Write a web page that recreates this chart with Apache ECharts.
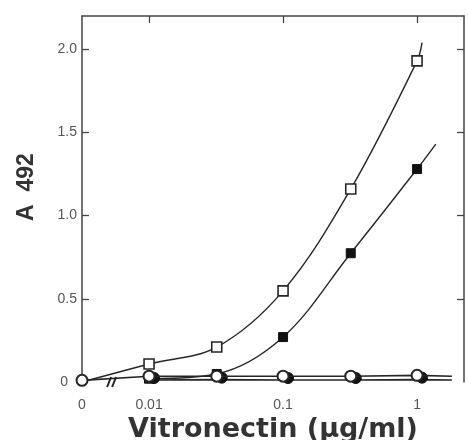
<!DOCTYPE html>
<html>
<head>
<meta charset="utf-8">
<script src="https://cdn.jsdelivr.net/npm/echarts@6/dist/echarts.min.js"></script>
<style>
  html, body { margin: 0; padding: 0; background: #fff; }
  #chart { width: 468px; height: 440px; }
</style>
</head>
<body>
<div id="chart"></div>
<script>
// Concentration 0 is drawn at the left end of the log axis (axis break "//").
const xZero = 0.00316;
const xMax = 2.24;

// Vitronectin concentrations (µg/ml)
const concentrations = [0, 0.01, 0.032, 0.1, 0.32, 1];

// A 492 readings per series ('-' = no point)
const openSquares   = [0, 0.108, 0.21, 0.548, 1.16, 1.93];
const filledSquares = ['-', 0.02, 0.048, 0.27, 0.774, 1.28];
const openCircles   = [0.01, 0.035, 0.035, 0.035, 0.035, 0.04];
const filledCircles = ['-', 0.012, 0.014, 0.012, 0.012, 0.014];

// Fitted curves continue slightly past the last measured point
const openSquaresTail   = [1.09, 2.04];
const filledSquaresTail = [1.38, 1.43];
const openCirclesTail   = [1.82, 0.035];
const filledCirclesTail = [1.82, 0.012];

// Axis ticks
const yTicks = [0, 0.5, 1, 1.5, 2];
const xTicks = [0.01, 0.1, 1];
const xLabelValues = [xZero, 0.01, 0.1, 1];

const ink = '#262626';
const frame = '#444';

function toPoints(values, tail, hideFirst) {
  const pts = [];
  values.forEach((v, i) => {
    if (v === '-') return;
    const x = concentrations[i] === 0 ? xZero : concentrations[i];
    const p = { value: [x, v] };
    if (hideFirst && i === 0) p.symbol = 'none';
    pts.push(p);
  });
  if (tail) pts.push({ value: tail, symbol: 'none' });
  return pts;
}

const chart = echarts.init(document.getElementById('chart'), null, { renderer: 'canvas' });

const labelStyle = { color: '#555', fontFamily: 'Liberation Sans, Arial', fontSize: 14 };
const innerTicks = vals => ({ show: true, inside: true, length: 7, customValues: vals, lineStyle: { color: frame, width: 1.3 } });

chart.setOption({
  animation: false,
  backgroundColor: '#fff',
  grid: { left: 82, top: 16, right: 4, bottom: 58, containLabel: false, outerBoundsMode: 'none' },
  xAxis: [
    {
      type: 'log', logBase: 10, min: xZero, max: xMax, position: 'bottom',
      axisLine: { show: false, onZero: false },
      axisTick: { show: false },
      splitLine: { show: false },
      axisLabel: {
        customValues: xLabelValues,
        margin: 16,
        ...labelStyle,
        formatter: v => (v < 0.005 ? '0' : (v >= 1 ? '1' : String(+v.toPrecision(1))))
      },
      name: 'Vitronectin (μg/ml)',
      nameLocation: 'middle',
      nameGap: 24,
      nameTextStyle: { fontFamily: 'DejaVu Sans', fontWeight: 'bold', fontSize: 27, color: '#333' }
    },
    {
      type: 'log', logBase: 10, min: xZero, max: xMax, position: 'top',
      axisLine: { show: true, onZero: false, lineStyle: { color: frame, width: 1.5 } },
      axisTick: innerTicks(xTicks),
      axisLabel: { show: false },
      splitLine: { show: false }
    }
  ],
  yAxis: [
    {
      type: 'value', min: 0, max: 2.2, position: 'left',
      axisLine: { show: true, onZero: false, lineStyle: { color: frame, width: 1.5 } },
      axisTick: innerTicks([0.5, 1, 1.5, 2]),
      splitLine: { show: false },
      axisLabel: {
        customValues: yTicks,
        margin: 5,
        ...labelStyle,
        formatter: v => (v === 0 ? '{zero|0}' : v.toFixed(1)),
        rich: { zero: { ...labelStyle, padding: [0, 9, 0, 0] } }
      },
      name: 'A  492',
      nameLocation: 'middle',
      nameGap: 44,
      nameRotate: 90,
      nameTextStyle: { fontFamily: 'Liberation Sans, Arial', fontWeight: 'bold', fontSize: 23, color: '#333', padding: [0, 0, 0, 24] }
    },
    {
      type: 'value', min: 0, max: 2.2, position: 'right',
      axisLine: { show: true, onZero: false, lineStyle: { color: frame, width: 1.5 } },
      axisTick: innerTicks([0.5, 1, 1.5, 2]),
      axisLabel: { show: false },
      splitLine: { show: false }
    }
  ],
  series: [
    {
      name: 'open squares', type: 'line', smooth: 0.35, z: 3,
      data: toPoints(openSquares, openSquaresTail, true),
      symbol: 'rect', symbolSize: 10,
      lineStyle: { color: ink, width: 1.4 },
      itemStyle: { color: '#fff', borderColor: ink, borderWidth: 1.6 }
    },
    {
      name: 'filled squares', type: 'line', smooth: 0.35, z: 2,
      data: toPoints(filledSquares, filledSquaresTail, false),
      symbol: 'rect', symbolSize: 9,
      lineStyle: { color: ink, width: 1.4 },
      itemStyle: { color: '#111', borderColor: '#111', borderWidth: 1 }
    },
    {
      name: 'filled circles', type: 'line', z: 4,
      data: toPoints(filledCircles, filledCirclesTail, false),
      symbol: 'circle', symbolSize: 11, symbolOffset: [5, -2],
      lineStyle: { color: ink, width: 1.6 },
      itemStyle: { color: '#111', borderColor: '#111', borderWidth: 1 }
    },
    {
      name: 'open circles', type: 'line', z: 5,
      data: toPoints(openCircles, openCirclesTail, false),
      symbol: 'circle', symbolSize: 11,
      lineStyle: { color: ink, width: 1.6 },
      itemStyle: { color: '#fff', borderColor: ink, borderWidth: 2 }
    }
  ]
});

// Axis-break mark "//" between 0 and 0.01
const brk = chart.convertToPixel({ xAxisIndex: 0, yAxisIndex: 0 }, [0.0053, 0]);
chart.setOption({
  graphic: [{
    type: 'group', x: brk[0], y: brk[1], z: 10,
    children: [
      { type: 'line', shape: { x1: -5, y1: 5, x2: -1, y2: -5 }, style: { stroke: ink, lineWidth: 2 } },
      { type: 'line', shape: { x1: 0, y1: 5, x2: 4, y2: -5 }, style: { stroke: ink, lineWidth: 2 } }
    ]
  }]
});
</script>
</body>
</html>
